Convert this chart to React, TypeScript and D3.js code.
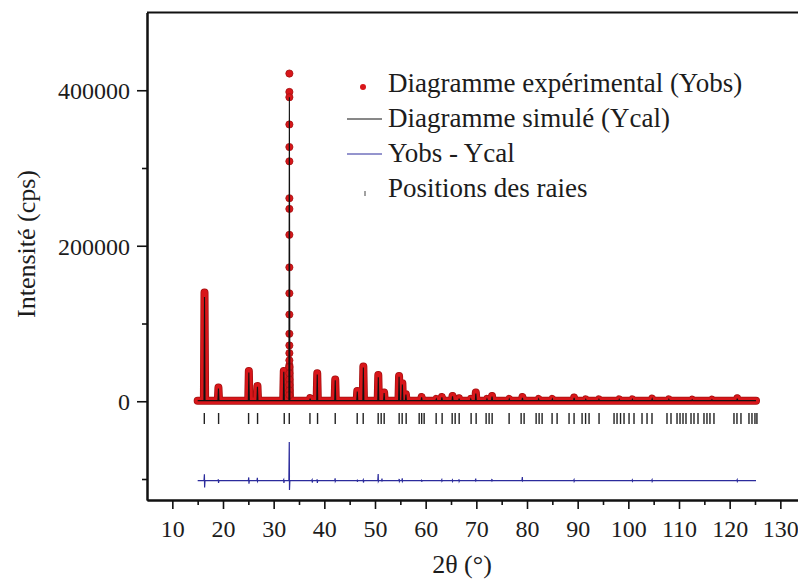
import {useEffect, useRef} from "react";
import * as d3 from "d3";

const SvgWidth = 798;
const SvgHeight = 581;

const peakPos = [16.35, 19.1, 25.1, 26.8, 32.0, 33.1, 37.2, 38.6, 42.15, 46.5, 47.7, 50.65, 51.8, 54.75, 55.4, 56.1, 59.2, 62.1, 63.2, 65.3, 66.6, 68.9, 69.9, 72.1, 73.1, 76.5, 79.1, 82.3, 85.0, 89.3, 91.6, 94.2, 98.2, 100.8, 104.7, 108.0, 112.6, 116.5, 121.5];
const peakObs = [140000, 17600, 39000, 19700, 39000, 46000, 4000, 36000, 27900, 13200, 44600, 33800, 11200, 32500, 23200, 9000, 5500, 3000, 5500, 6800, 3900, 3000, 11200, 3000, 6800, 3000, 5500, 3000, 3000, 4800, 2500, 2500, 2500, 2500, 3500, 2500, 2000, 2000, 3900];
const peakCalc = [134000, 16500, 37000, 18500, 38000, 391000, 3500, 34500, 27000, 12500, 43500, 31000, 10500, 31500, 21500, 8500, 5000, 2800, 5000, 6300, 3500, 2800, 10000, 2800, 6000, 2800, 4500, 2800, 2800, 4300, 2300, 2300, 2300, 2300, 3000, 2300, 1900, 1900, 3500];
const background = 800;
const startTheta = 15.0;
const endTheta = 125.2;

// individual observed points on the flank of the main peak
const mainDotTheta = 33.1;
const mainDotInt = [421500, 397800, 391000, 356000, 327000, 308600, 261100, 247400, 214100, 172200, 138800, 111500, 86800, 71800, 61900, 52600, 44000, 36000, 28000, 21000, 14000, 8000];

// Yobs - Ycal spikes (plotted with an offset)
const resOffset = -102000;
const resPos = [16.35, 19.1, 25.1, 26.8, 32.0, 33.1, 37.6, 38.6, 42.15, 46.5, 47.7, 50.65, 51.4, 54.8, 55.4, 59.2, 63.2, 65.3, 66.6, 69.9, 73.1, 79.1, 89.3, 100.8, 104.7, 121.5];
const resUp = [8000, 1500, 4000, 3500, 1000, 49600, 1000, 1500, 3000, 500, 1000, 8500, 2500, 2000, 3000, 500, 1000, 800, 1500, 2500, 2000, 4500, 1000, 800, 1000, 1000];
const resDown = [-9000, -3000, -4000, -1000, -3000, -12000, -2500, -3000, -1000, -1500, -2500, -1000, -500, -1000, -1000, -1500, -800, -1000, -1000, -500, -500, -500, -1000, -800, -1000, -1000];

// Bragg positions
const raies = [16.31, 19.13, 25.05, 26.82, 32.09, 33.08, 37.16, 38.66, 42.15, 46.49, 47.67, 50.63, 51.22, 51.81, 54.77, 55.36, 56.15, 58.72, 59.21, 59.7, 62.07, 63.25, 65.23, 65.82, 66.61, 68.97, 69.96, 71.93, 72.52, 73.12, 76.47, 78.84, 79.43, 81.8, 82.39, 82.98, 84.95, 85.94, 88.3, 89.29, 90.87, 91.56, 92.25, 94.22, 97.18, 97.77, 98.46, 99.15, 100.14, 101.12, 102.7, 103.69, 104.67, 107.63, 108.42, 109.61, 110.2, 110.79, 111.38, 112.37, 112.96, 113.75, 114.93, 115.52, 116.11, 116.9, 120.85, 121.44, 122.23, 123.81, 124.4, 124.99, 125.38];

const xMajor = [10, 20, 30, 40, 50, 60, 70, 80, 90, 100, 110, 120, 130];
const xMinor = [15, 25, 35, 45, 55, 65, 75, 85, 95, 105, 115, 125];
const yMajor = [0, 200000, 400000];
const yMinor = [-100000, 100000, 300000];

const legendLabels = ["Diagramme expérimental (Yobs)", "Diagramme simulé (Ycal)", "Yobs - Ycal", "Positions des raies"];

const obsColor = "#d8161a";
const obsEdge = "#a51010";
const calcColor = "#111111";
const diffColor = "#2b2b9c";
const textColor = "#1c1c1c";
const fontFam = "Liberation Serif";

function peakVertices(heights, hw) {
    let pts = [[startTheta, background]];
    for (let i = 0; i < peakPos.length; i++) {
        pts.push([peakPos[i] - hw, background]);
        pts.push([peakPos[i], heights[i]]);
        pts.push([peakPos[i] + hw, background]);
    }
    pts.push([endTheta, background]);
    return pts;
}

function residualVertices() {
    let pts = [[startTheta, 0]];
    for (let i = 0; i < resPos.length; i++) {
        pts.push([resPos[i] - 0.1, 0]);
        pts.push([resPos[i] - 0.02, resUp[i]]);
        pts.push([resPos[i] + 0.02, resDown[i]]);
        pts.push([resPos[i] + 0.1, 0]);
    }
    pts.push([endTheta, 0]);
    return pts;
}

function App() {
    const xAxisRef = useRef(null);
    const xMinorRef = useRef(null);
    const yAxisRef = useRef(null);
    const yMinorRef = useRef(null);

    const left = 147;
    const top = 12.5;
    const bottom = 500;

    const xScale = d3.scaleLinear().domain([5, 135]).range([left, left + 130 * 5.0667]);
    const yScale = d3.scaleLinear().domain([-127000, 500000]).range([bottom, top]);

    const line = d3.line().x(d => xScale(d[0])).y(d => yScale(d[1]));
    const resLine = d3.line().x(d => xScale(d[0])).y(d => yScale(d[1] + resOffset));

    useEffect(() => {
        let xAx = d3.select(xAxisRef.current);
        xAx.call(d3.axisBottom(xScale).tickValues(xMajor).tickSize(9).tickSizeOuter(0).tickPadding(6).tickFormat(d3.format("d")));
        let xMin = d3.select(xMinorRef.current);
        xMin.call(d3.axisBottom(xScale).tickValues(xMinor).tickSize(5).tickSizeOuter(0).tickFormat(() => ""));
        let yAx = d3.select(yAxisRef.current);
        yAx.call(d3.axisLeft(yScale).tickValues(yMajor).tickSize(10).tickSizeOuter(0).tickPadding(7).tickFormat(d3.format("d")));
        let yMin = d3.select(yMinorRef.current);
        yMin.call(d3.axisLeft(yScale).tickValues(yMinor).tickSize(5).tickSizeOuter(0).tickFormat(() => ""));

        for (let g of [xAx, xMin, yAx, yMin]) {
            g.attr("font-family", fontFam).attr("font-size", 24);
            g.selectAll("path.domain").attr("stroke", "#111").attr("stroke-width", 2);
            g.selectAll(".tick line").attr("stroke", "#111").attr("stroke-width", 1.6);
            g.selectAll(".tick text").attr("fill", textColor);
        }
        xAx.selectAll(".tick text").attr("dy", "0.9em");
        yAx.selectAll(".tick text").attr("dy", "0.35em");
    }, []);

    const obsPath = line(peakVertices(peakObs, 0.12));
    const calcPath = line(peakVertices(peakCalc, 0.1));
    const diffPath = resLine(residualVertices());

    return (
        <div>
            <svg width={SvgWidth} height={SvgHeight} style={{position: "absolute", left: 0, top: 0, background: "#fff"}}>
                <line x1={left} x2={SvgWidth + 10} y1={top} y2={top} stroke="#111" strokeWidth={2} />

                {/* observed: thick band of points */}
                <path d={obsPath} fill="none" stroke={obsEdge} strokeWidth={8} strokeLinejoin="round" strokeLinecap="round" />
                <path d={obsPath} fill="none" stroke={obsColor} strokeWidth={6.5} strokeLinejoin="round" strokeLinecap="round" />
                {mainDotInt.map((v, i) => (
                    <circle key={i} cx={xScale(mainDotTheta)} cy={yScale(v)} r={3.6} fill={obsColor} stroke={obsEdge} strokeWidth={0.8} />
                ))}

                {/* calculated */}
                <path d={calcPath} fill="none" stroke={calcColor} strokeWidth={1.1} />

                {/* difference */}
                <path d={diffPath} fill="none" stroke={diffColor} strokeWidth={1.2} />

                {/* Bragg positions */}
                {raies.map((r, i) => (
                    <line key={i} x1={xScale(r)} x2={xScale(r)} y1={413} y2={424} stroke="#222" strokeWidth={1.4} />
                ))}

                <g ref={xMinorRef} transform={`translate(0, ${bottom})`}></g>
                <g ref={xAxisRef} transform={`translate(0, ${bottom})`}></g>
                <g ref={yMinorRef} transform={`translate(${left}, 0)`}></g>
                <g ref={yAxisRef} transform={`translate(${left}, 0)`}></g>

                <text x={462} y={573} textAnchor="middle" fontFamily={fontFam} fontSize={26} fill={textColor}>2θ (°)</text>
                <text transform="translate(35, 244) rotate(-90)" textAnchor="middle" fontFamily={fontFam} fontSize={26} fill={textColor}>Intensité (cps)</text>

                {/* legend */}
                <g transform="translate(347, 0)" fontFamily={fontFam} fontSize={27} fill={textColor}>
                    <circle cx={16} cy={87} r={3} fill={obsColor} />
                    <line x1={0} x2={35} y1={119} y2={119} stroke={calcColor} strokeWidth={1} />
                    <line x1={0} x2={35} y1={154} y2={154} stroke={diffColor} strokeWidth={1} />
                    <line x1={18} x2={18} y1={191} y2={196} stroke="#444" strokeWidth={1} />
                    {legendLabels.map((t, i) => (
                        <text key={i} x={41} y={92 + i * 35}>{t}</text>
                    ))}
                </g>
            </svg>
        </div>
    );
}

export default App;
